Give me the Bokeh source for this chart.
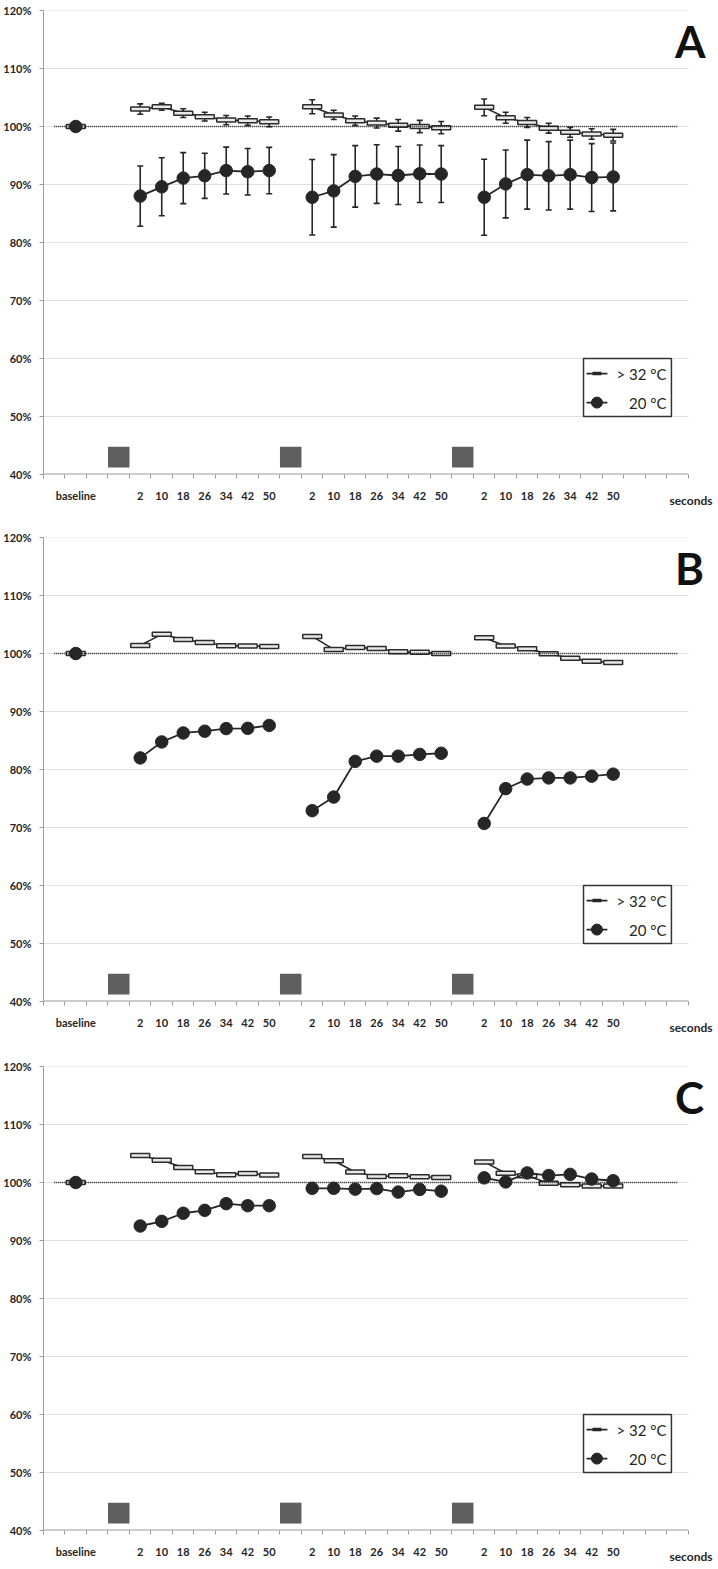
from bokeh.plotting import figure
from bokeh.models import Range1d, FixedTicker, Title
from bokeh.layouts import column
from bokeh.embed import file_html
from bokeh.resources import INLINE
from bokeh.core.properties import value

# ---------------- data ----------------
TIMES = ["2", "10", "18", "26", "34", "42", "50"]
STIM = "stim"
CATEGORIES = ["", "baseline", "", STIM] + TIMES + [STIM] + TIMES + [STIM] + TIMES + ["", "", ""]
Y_TICKS = [40, 50, 60, 70, 80, 90, 100, 110, 120]
X_TITLE = "seconds"
LEGEND_HOT = "> 32 °C"
LEGEND_COLD = "20 °C"
BASELINE_HOT = 100.0
BASELINE_COLD = 100.0
REFERENCE_LEVEL = 100.0

A_HOT = [[103.0, 103.4, 102.3, 101.7, 101.1, 101.0, 100.8],
         [103.4, 102.0, 101.0, 100.6, 100.2, 100.0, 99.8],
         [103.3, 101.5, 100.7, 99.7, 99.0, 98.7, 98.5]]
A_HOT_ERR = [[0.9, 0.6, 0.75, 0.75, 0.8, 0.8, 0.85],
             [1.2, 0.8, 0.8, 0.85, 1.0, 1.05, 1.05],
             [1.45, 0.95, 0.85, 0.85, 0.85, 0.9, 1.0]]
A_COLD = [[88.0, 89.6, 91.1, 91.5, 92.4, 92.2, 92.4],
          [87.8, 88.9, 91.4, 91.8, 91.55, 91.85, 91.8],
          [87.8, 90.1, 91.7, 91.5, 91.7, 91.2, 91.3]]
A_COLD_ERR = [[5.2, 5.0, 4.4, 3.9, 4.05, 4.0, 4.0],
              [6.5, 6.25, 5.3, 5.05, 5.0, 4.95, 4.9],
              [6.55, 5.85, 5.95, 5.9, 5.95, 5.85, 5.85]]

B_HOT = [[101.4, 103.3, 102.4, 101.9, 101.35, 101.3, 101.2],
         [102.95, 100.7, 101.05, 100.85, 100.3, 100.2, 100.0],
         [102.7, 101.3, 100.8, 99.95, 99.2, 98.65, 98.45]]
B_COLD = [[82.0, 84.75, 86.3, 86.6, 87.05, 87.1, 87.6],
          [72.9, 75.25, 81.4, 82.3, 82.3, 82.6, 82.8],
          [70.7, 76.7, 78.35, 78.55, 78.55, 78.85, 79.2]]

C_HOT = [[104.65, 103.85, 102.6, 101.85, 101.35, 101.55, 101.3],
         [104.5, 103.75, 101.8, 101.05, 101.15, 101.0, 100.85],
         [103.55, 101.6, 101.15, 99.85, 99.6, 99.4, 99.4]]
C_COLD = [[92.5, 93.3, 94.7, 95.2, 96.35, 96.0, 96.0],
          [99.0, 99.0, 98.85, 98.95, 98.35, 98.8, 98.5],
          [100.8, 100.1, 101.65, 101.2, 101.4, 100.6, 100.3]]

# ---------------- positions derived from categories ----------------
BASE_X = CATEGORIES.index("baseline")
STIM_X = [i for i, c in enumerate(CATEGORIES) if c == STIM]
GROUP_X = [[s + 1 + j for j in range(len(TIMES))] for s in STIM_X]
N = len(CATEGORIES)

# ---------------- style / layout constants ----------------
DARK = "#262626"
AXIS_GREY = "#9a9a9a"
GRID_GREY = "#e0e0e0"
FONT = "Lato"
FRAME_H = 464
FRAME_W = 669
LEFT = 43
X_END = 30.62
STIM_BAND = (41.2, 44.8)
LEG_BOX = (24.62, 28.71, 50.0, 60.0)     # left, right, bottom, top (slot units / %)
LEG_ROWS = (57.4, 52.4)
LEG_GLYPH = (24.76, 25.73)
LEG_TEXT_RIGHT = 28.48
LETTER_POS = (28.88, 114.8)


def make_title():
    kw = dict(text=X_TITLE, align="right", vertical_align="top",
              text_font=FONT, text_font_style="bold", text_font_size="12px",
              text_color=DARK)
    try:
        return Title(standoff=-24, **kw)
    except ValueError:
        return Title(standoff=0, **kw)


def make_panel(letter, hot, cold, hot_err, cold_err, top, bottom):
    p = figure(frame_width=FRAME_W, frame_height=FRAME_H,
               x_range=Range1d(-0.5, X_END), y_range=Range1d(Y_TICKS[0], Y_TICKS[-1]),
               output_backend="svg", toolbar_location=None,
               min_border_left=LEFT, min_border_right=718 - LEFT - FRAME_W,
               min_border_top=top, min_border_bottom=bottom)
    p.outline_line_color = None
    p.xgrid.visible = False
    p.ygrid.visible = False

    # x axis: labels at slot centres, minor ticks at slot boundaries
    xa = p.xaxis[0]
    xa.ticker = FixedTicker(ticks=list(range(N)), minor_ticks=[i - 0.5 for i in range(N + 1)])
    xa.major_label_overrides = {i: ("" if c == STIM else c) for i, c in enumerate(CATEGORIES)}
    xa.major_tick_out = 0
    xa.major_tick_in = 0
    xa.minor_tick_out = 4
    xa.minor_tick_in = 0
    xa.minor_tick_line_color = AXIS_GREY
    xa.axis_line_color = None
    xa.major_label_standoff = 10
    xa.major_label_text_font = FONT
    xa.major_label_text_font_style = "bold"
    xa.major_label_text_font_size = "11px"
    xa.major_label_text_color = DARK

    # x-axis title, right-aligned under the end of the axis
    p.add_layout(make_title(), "below")

    ya = p.yaxis[0]
    ya.ticker = FixedTicker(ticks=Y_TICKS, minor_ticks=[])
    ya.major_label_overrides = {t: f"{t}%" for t in Y_TICKS}
    ya.major_tick_out = 4
    ya.major_tick_in = 0
    ya.major_tick_line_color = AXIS_GREY
    ya.axis_line_color = AXIS_GREY
    ya.major_label_standoff = 8
    ya.major_label_text_font = FONT
    ya.major_label_text_font_style = "bold"
    ya.major_label_text_font_size = "11px"
    ya.major_label_text_color = DARK

    # gridlines and x-axis line, limited to the category span
    x_lo, x_hi = -0.5, N - 0.5
    p.segment(x0=x_lo, x1=x_hi, y0=Y_TICKS[1:], y1=Y_TICKS[1:], line_color=GRID_GREY, line_width=1)
    p.segment(x0=x_lo, x1=x_hi, y0=Y_TICKS[0], y1=Y_TICKS[0], line_color=AXIS_GREY, line_width=2)

    # stimulus squares
    p.quad(left=[s - 0.5 for s in STIM_X], right=[s + 0.5 for s in STIM_X],
           bottom=STIM_BAND[0], top=STIM_BAND[1], fill_color="#5f5f5f", line_color=None)

    # error bars (drawn under the markers)
    def add_err(xs, ys, es):
        hi = [y + e for y, e in zip(ys, es)]
        lo = [y - e for y, e in zip(ys, es)]
        p.segment(x0=xs, x1=xs, y0=lo, y1=hi, line_color=DARK, line_width=1.6)
        p.scatter(x=xs + xs, y=hi + lo, marker="dash", size=6, line_color=DARK, line_width=1.6)

    if hot_err is not None:
        for gx, gv, ge in zip(GROUP_X, hot, hot_err):
            add_err(gx, gv, ge)
    if cold_err is not None:
        for gx, gv, ge in zip(GROUP_X, cold, cold_err):
            add_err(gx, gv, ge)

    # > 32 °C series (boxes)
    for gx, gv in zip(GROUP_X, hot):
        p.line(gx, gv, line_color=DARK, line_width=1.6)
    all_x = [BASE_X] + [x for g in GROUP_X for x in g]
    all_hv = [BASELINE_HOT] + [v for g in hot for v in g]
    p.rect(x=all_x, y=all_hv, width=0.88, height=4, height_units="screen",
           fill_color="#e8e8e8", line_color="#2b2b2b", line_width=1.5)

    # reference dotted line at 100 %
    p.line([0, N - 1], [REFERENCE_LEVEL, REFERENCE_LEVEL], line_color="#1a1a1a",
           line_width=1.6, line_dash="1 1")

    # 20 °C series (dots)
    for gx, gv in zip(GROUP_X, cold):
        p.line(gx, gv, line_color=DARK, line_width=1.8)
    all_cv = [BASELINE_COLD] + [v for g in cold for v in g]
    p.scatter(x=all_x, y=all_cv, marker="circle", size=12.5, fill_color=DARK, line_color=DARK)

    # legend (drawn by hand to match the boxed original)
    lb = LEG_BOX
    p.quad(left=lb[0], right=lb[1], bottom=lb[2], top=lb[3], fill_color="white",
           line_color="#333333", line_width=1.5)
    g0, g1 = LEG_GLYPH
    gm = (g0 + g1) / 2
    r1, r2 = LEG_ROWS
    p.segment(x0=[g0, g0], x1=[g1, g1], y0=[r1, r2], y1=[r1, r2], line_color=DARK, line_width=1.6)
    p.scatter(x=[gm], y=[r1], marker="dash", size=9, line_color=DARK, line_width=3.5)
    p.scatter(x=[gm], y=[r2], marker="circle", size=11, fill_color=DARK, line_color=DARK)
    p.text(x=[LEG_TEXT_RIGHT, LEG_TEXT_RIGHT], y=[r1, r2], text=[LEGEND_HOT, LEGEND_COLD],
           text_font=value(FONT), text_font_size=value("15px"), text_color=DARK,
           text_align="right", text_baseline="middle")

    # panel letter
    p.text(x=[LETTER_POS[0]], y=[LETTER_POS[1]], text=[letter], text_font=value(FONT),
           text_font_style="bold", text_font_size=value("44px"), text_color="#111111",
           text_align="left", text_baseline="middle")
    return p


pA = make_panel("A", A_HOT, A_COLD, A_HOT_ERR, A_COLD_ERR, 10, 53)
pB = make_panel("B", B_HOT, B_COLD, None, None, 10, 54)
pC = make_panel("C", C_HOT, C_COLD, None, None, 11, 38)

p = column(pA, pB, pC, spacing=0)
open("out.html", "w").write(file_html(p, INLINE))
